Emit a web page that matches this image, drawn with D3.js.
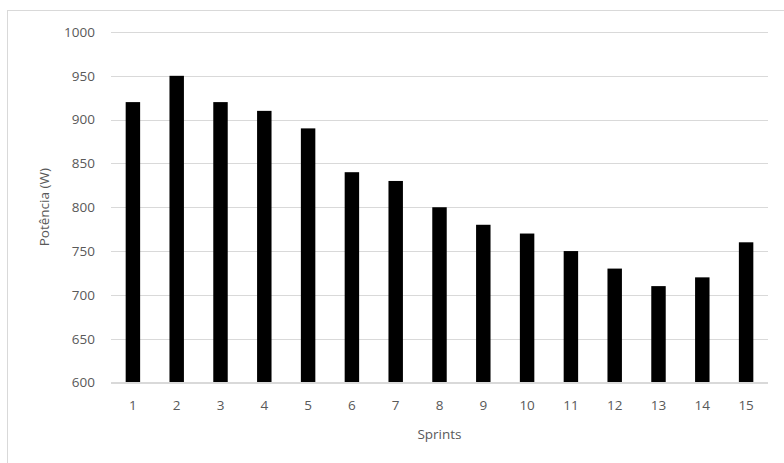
<!DOCTYPE html>
<html><head><meta charset="utf-8">
<script src="https://cdn.jsdelivr.net/npm/d3@7"></script>
<style>body{margin:0;background:#fff}svg{display:block}text{font-family:"Open Sans","Noto Sans",sans-serif;fill:#595959}</style>
</head><body><svg id="c" width="784" height="463"></svg>
<script>
const categories = ["1","2","3","4","5","6","7","8","9","10","11","12","13","14","15"];
const values = [920,950,920,910,890,840,830,800,780,770,750,730,710,720,760];
const yTicks = [600,650,700,750,800,850,900,950,1000];
const yTitle = "Potência (W)";
const xTitle = "Sprints";

const svg = d3.select("#c");
svg.append("rect").attr("x",7.5).attr("y",10.5).attr("width",800).attr("height",500)
  .attr("fill","#fff").attr("stroke","#d9d9d9");
const L=111, R=768, T=32, B=382.5;
const x = d3.scaleBand().domain(categories).range([L,R]).paddingInner(0.67).paddingOuter(0.335);
const y = d3.scaleLinear().domain([600,1000]).range([B,T]);

const g = svg.append("g");
g.selectAll("line.grid").data(yTicks).join("line")
  .attr("x1",L).attr("x2",R).attr("y1",d=>Math.round(y(d))+0.5).attr("y2",d=>Math.round(y(d))+0.5)
  .attr("stroke","#d9d9d9").attr("stroke-width",1);
g.selectAll("rect.bar").data(values).join("rect")
  .attr("x",(d,i)=>x(categories[i])).attr("width",x.bandwidth())
  .attr("y",d=>y(d)).attr("height",d=>B-y(d)).attr("fill","#000");

const ya = d3.axisLeft(y).tickValues(yTicks).tickFormat(d3.format("d")).tickSize(0).tickPadding(0);
const yg = svg.append("g").attr("transform",`translate(95,0)`).call(ya);
yg.select(".domain").remove();
yg.selectAll("text").style("font-size","13.5px").attr("fill","#595959");

const xa = d3.axisBottom(x).tickSize(0).tickPadding(0);
const xg = svg.append("g").attr("transform",`translate(0,400)`).call(xa);
xg.select(".domain").remove();
xg.selectAll("text").style("font-size","13.5px").attr("fill","#595959");
svg.append("line").attr("x1",L).attr("x2",R).attr("y1",382.5).attr("y2",382.5).attr("stroke","#d9d9d9");

svg.append("text").attr("x",(L+R)/2).attr("y",439).attr("text-anchor","middle").style("font-size","13.5px").text(xTitle);
svg.append("text").attr("transform",`translate(49,${(T+B)/2}) rotate(-90)`).attr("text-anchor","middle").style("font-size","13.5px").text(yTitle);
</script></body></html>
